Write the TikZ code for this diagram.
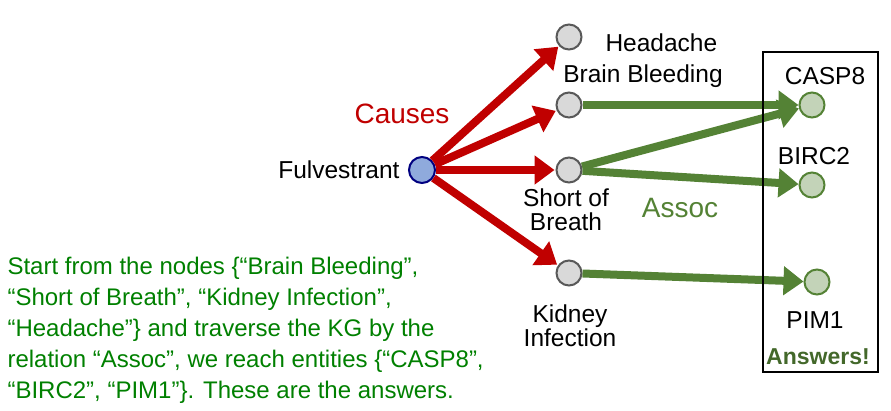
\documentclass[tikz,border=0pt]{standalone}
\usepackage{fontspec}
\setmainfont{Liberation Sans}
\usetikzlibrary{arrows.meta}
\definecolor{rd}{RGB}{192,0,0}
\definecolor{gr}{RGB}{84,130,53}
\definecolor{tg}{RGB}{0,128,0}
\definecolor{bl}{RGB}{143,170,220}
\begin{document}
\begin{tikzpicture}[x=1pt,y=-1pt,
 ent/.style={circle,draw=gray!70!black,line width=2pt,fill=gray!30,minimum size=25pt,inner sep=0},
 ans/.style={circle,draw=gr,line width=2pt,fill=gr!35,minimum size=25pt,inner sep=0},
 ra/.style={draw=rd,line width=8pt,-{Triangle[length=20pt,width=28pt]},shorten >=1pt},
 ga/.style={draw=gr,line width=8pt,-{Triangle[length=20pt,width=28pt]}},
 lbl/.style={font=\fontsize{24.5}{27}\selectfont,align=center}]
\useasboundingbox (0,0) rectangle (891,410);
\node[circle,draw=blue!50!black,line width=2pt,fill=bl,minimum size=26pt,inner sep=0] (f) at (422,170) {};
\node[ent] (h) at (569,37) {};
\node[ent] (b) at (569,105) {};
\node[ent] (s) at (569,170) {};
\node[ent] (k) at (569,273) {};
\node[ans] (c) at (812,105) {};
\node[ans] (bi) at (812,185) {};
\node[ans] (p) at (817,282) {};
\draw[ra] (f) -- (h);
\draw[ra] (f) -- (b);
\draw[ra] (f) -- (s);
\draw[ra] (f) -- (k);
\draw[ga] (b) -- (c);
\draw[ga] (s) -- (c);
\draw[ga] (s) -- (bi);
\draw[ga] (k) -- (p);
\node[draw,line width=2pt,minimum width=115pt,minimum height=320pt] (box) at (820.5,212) {};
\node[lbl,anchor=east] (lf) at (403,170) {Fulvestrant};
\node[lbl,anchor=west] (lh) at (602,43) {Headache};
\node[lbl] (lb) at (643,76) {Brain Bleeding};
\node[lbl,font=\fontsize{24.5}{24}\selectfont] (ls) at (566,210) {Short of\\Breath};
\node[lbl,font=\fontsize{24.5}{24}\selectfont] (lk) at (570,326) {Kidney\\Infection};
\node[lbl] (lc) at (825,76) {CASP8};
\node[lbl] (lbi) at (814,156) {BIRC2};
\node[lbl] (lp) at (815,320) {PIM1};
\node[lbl,text=rd,font=\fontsize{28}{30}\selectfont] (cz) at (402,114) {Causes};
\node[lbl,text=gr,font=\fontsize{28}{30}\selectfont] (as) at (680,208) {Assoc};
\node[lbl,text=gr!80!black,font=\bfseries\fontsize{23}{25}\selectfont] (an) at (818,357) {Answers!};
\node[lbl,text=tg,align=left,anchor=north west,font=\fontsize{24}{31}\selectfont] (t) at (4,254)
 {Start from the nodes \{“Brain Bleeding”,\\“Short of Breath”, “Kidney Infection”,\\“Headache”\} and traverse the KG by the\\relation “Assoc”, we reach entities \{“CASP8”,\\“BIRC2”, “PIM1”\}. These are the answers.};
\end{tikzpicture}
\end{document}
